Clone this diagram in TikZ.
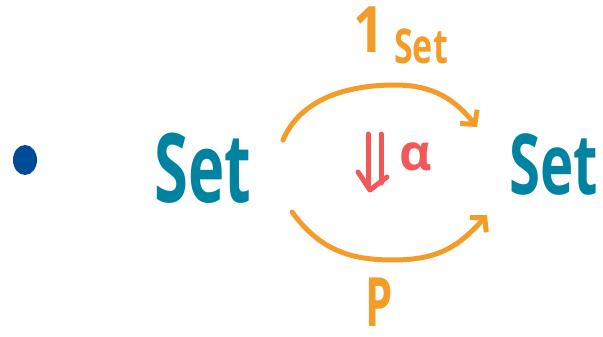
\documentclass[tikz,border=0pt]{standalone}
\usepackage{fontspec}
\setmainfont{Open Sans}
\usetikzlibrary{arrows.meta,shapes.geometric}
\definecolor{setteal}{RGB}{0,131,160}
\definecolor{arrorange}{RGB}{243,157,40}
\definecolor{natred}{RGB}{242,88,88}
\definecolor{dotblue}{RGB}{0,74,150}
\tikzset{
  obj/.style={text=setteal, inner sep=0pt},
  lbl/.style={text=arrorange, inner sep=0pt},
  arr/.style={draw=arrorange, line width=5pt, line cap=round, line join=round,
    -{Straight Barb[length=10pt,width=22pt]}},
  natline/.style={draw=natred, line width=5pt, line cap=round, line join=round}
}
\begin{document}
\begin{tikzpicture}[x=1pt,y=-1pt]
\useasboundingbox (0,0) rectangle (603,337);
% point
\node (d) [ellipse, fill=dotblue, minimum width=24pt, minimum height=30pt, inner sep=0pt] at (25,160) {};
% objects
\node (L) [obj, font=\fontsize{96}{96}\selectfont\bfseries] at (203,168) {\scalebox{0.64}[1]{Set}};
\node (R) [obj, font=\fontsize{84}{84}\selectfont\bfseries] at (554,164) {\scalebox{0.67}[1]{Set}};
% arrow labels
\node (one) [lbl, font=\fontsize{64}{64}\selectfont\bfseries] at (369,30) {\scalebox{0.85}[1]{1}};
\node (sub) [lbl, font=\fontsize{48}{48}\selectfont\bfseries] at (421,46) {\scalebox{0.71}[1]{Set}};
\node (P) [lbl, font=\fontsize{68}{68}\selectfont\bfseries] at (379,302) {\scalebox{0.64}[1]{P}};
% 1-cells
\coordinate (topmid) at (395,85);
\coordinate (botmid) at (393,260);
\draw[arr] (L.center) ++(80,-28) .. controls +(17,-40) and +(-50,0) .. (topmid)
  .. controls +(40,0) and +(-21,-26) .. ([shift={(-77,-37)}]R.center);
\draw[arr] (L.center) ++(89,44) .. controls +(28,38) and +(-43,0) .. (botmid)
  .. controls +(47,0) and +(-27,30) .. ([shift={(-67,51)}]R.center);
% 2-cell
\coordinate (nt1) at (368,134);
\coordinate (nb1) at (368,185);
\coordinate (nt2) at (381,134);
\coordinate (nb2) at (381,183);
\coordinate (tipl) at (358,172);
\coordinate (tip) at (370,190);
\coordinate (tipr) at (387,177);
\draw[natline] (nt1) -- (nb1);
\draw[natline] (nt2) -- (nb2);
\draw[natline] (tipl) -- (tip) -- (tipr);
\node (al) [text=natred, inner sep=0pt, font=\fontsize{50}{50}\selectfont\bfseries] at (416,157) {α};
\end{tikzpicture}
\end{document}
